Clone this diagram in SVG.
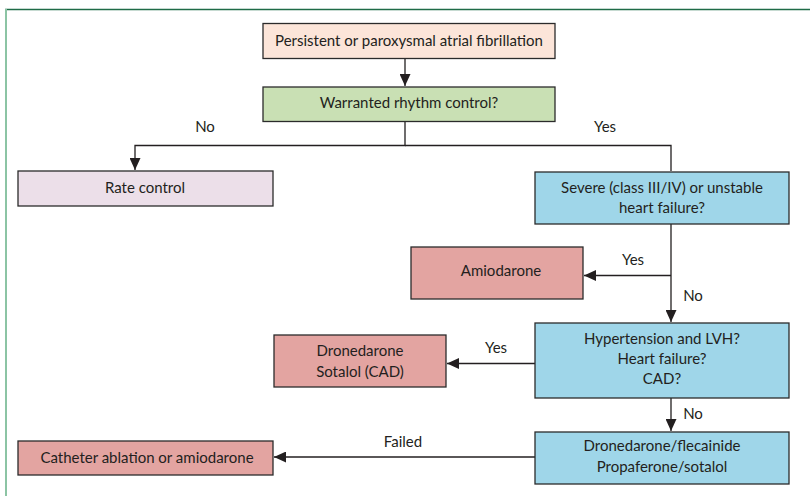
<svg xmlns="http://www.w3.org/2000/svg" width="810" height="496" viewBox="0 0 810 496">
<style>
.box{stroke:#2b2b2b;stroke-width:1.3}
.t{font-family:Lato,"Open Sans","Liberation Sans",sans-serif;font-size:15px;fill:#231f20;text-anchor:middle;dominant-baseline:middle}
.c{stroke:#231f20;stroke-width:1.3;fill:none}
.peach{fill:#fce5d9}.green{fill:#c9e0b4}.lav{fill:#ecdfe9}.blue{fill:#9fd6e9}.red{fill:#e3a4a1}
</style>
<defs>
<marker id="ah" viewBox="0 0 12 11" refX="12" refY="5.5" markerWidth="12" markerHeight="11" markerUnits="userSpaceOnUse" orient="auto">
<path d="M0,0 L12,5.5 L0,11 z" fill="#231f20"/>
</marker>
</defs>
<rect x="0" y="0" width="810" height="496" fill="#ffffff"/>
<g id="frame">
<line x1="5" y1="9.5" x2="810" y2="9.5" stroke="#1f6b47" stroke-width="1.5"/>
<line x1="6" y1="9" x2="6" y2="496" stroke="#8cc4a4" stroke-width="2"/>
</g>
<g id="connectors">
<line class="c" x1="405" y1="58" x2="405" y2="86" marker-end="url(#ah)"/>
<polyline class="c" points="405,121 405,145.5 135,145.5 135,170" marker-end="url(#ah)"/>
<polyline class="c" points="405,145.5 671,145.5 671,171"/>
<line class="c" x1="671" y1="224" x2="671" y2="322" marker-end="url(#ah)"/>
<line class="c" x1="671" y1="275.5" x2="584" y2="275.5" marker-end="url(#ah)"/>
<line class="c" x1="535" y1="363.5" x2="447" y2="363.5" marker-end="url(#ah)"/>
<line class="c" x1="671" y1="398" x2="671" y2="431" marker-end="url(#ah)"/>
<line class="c" x1="535" y1="457" x2="274" y2="457" marker-end="url(#ah)"/>
<text class="t" x="205" y="128">No</text>
<text class="t" x="605" y="128">Yes</text>
<text class="t" x="633" y="261">Yes</text>
<text class="t" x="693" y="297">No</text>
<text class="t" x="496" y="349">Yes</text>
<text class="t" x="693" y="415">No</text>
<text class="t" x="403" y="443">Failed</text>
</g>
<g id="n1">
<rect class="box peach" x="263" y="23.5" width="292" height="35"/>
<text class="t" x="409" y="42">Persistent or paroxysmal atrial fibrillation</text>
</g>
<g id="n2">
<rect class="box green" x="263" y="87" width="292" height="34.5"/>
<text class="t" x="409" y="104">Warranted rhythm control?</text>
</g>
<g id="n3">
<rect class="box lav" x="18" y="171" width="255" height="35"/>
<text class="t" x="145" y="189">Rate control</text>
</g>
<g id="n4">
<rect class="box blue" x="535" y="172" width="254" height="52"/>
<text class="t" x="662" y="189">Severe (class III/IV) or unstable</text>
<text class="t" x="662" y="209">heart failure?</text>
</g>
<g id="n5">
<rect class="box red" x="411" y="247" width="172" height="52"/>
<text class="t" x="501" y="272">Amiodarone</text>
</g>
<g id="n6">
<rect class="box blue" x="535" y="323" width="254" height="75"/>
<text class="t" x="662" y="340">Hypertension and LVH?</text>
<text class="t" x="662" y="360">Heart failure?</text>
<text class="t" x="662" y="380">CAD?</text>
</g>
<g id="n7">
<rect class="box red" x="274" y="335" width="172" height="52"/>
<text class="t" x="360" y="352">Dronedarone</text>
<text class="t" x="360" y="373">Sotalol (CAD)</text>
</g>
<g id="n8">
<rect class="box blue" x="535" y="432" width="254" height="52"/>
<text class="t" x="662" y="447">Dronedarone/flecainide</text>
<text class="t" x="662" y="468">Propaferone/sotalol</text>
</g>
<g id="n9">
<rect class="box red" x="18" y="441" width="255" height="34"/>
<text class="t" x="147" y="459">Catheter ablation or amiodarone</text>
</g>
</svg>
